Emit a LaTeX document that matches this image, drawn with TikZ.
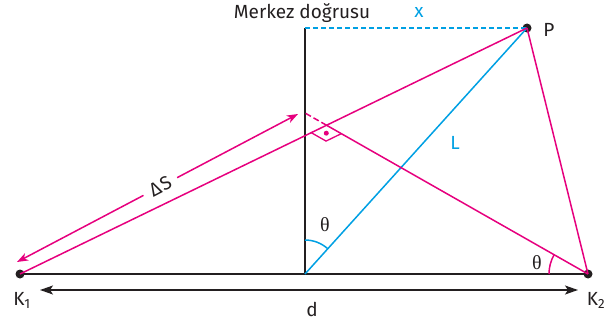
\documentclass[tikz,border=0pt]{standalone}
\usepackage{fontspec}
\setmainfont{Fira Sans}
\newfontfamily\thetafont{Liberation Serif}
\usetikzlibrary{arrows.meta,calc,angles}
\definecolor{pinkc}{RGB}{230,0,126}
\definecolor{bluec}{RGB}{0,160,227}
\definecolor{darkc}{RGB}{35,31,32}
\tikzset{
  pinkline/.style={draw=pinkc,line width=1.5pt},
  blueline/.style={draw=bluec,line width=1.5pt},
  blackline/.style={draw=darkc,line width=1.7pt},
  dotnode/.style={circle,fill=darkc,inner sep=0pt,minimum size=9pt},
  lbl/.style={font=\fontsize{19}{21}\selectfont,text=darkc,inner sep=0pt},
  thlbl/.style={font=\thetafont\fontsize{20}{22}\selectfont,text=darkc,inner sep=0pt},
  pinkarrow/.style={pinkline,-{Stealth[length=11pt,width=8pt,inset=3pt]}},
}
\begin{document}
\begin{tikzpicture}[x=1pt,y=1pt]
\useasboundingbox (0,0) rectangle (611,322);
% points
\node[dotnode] (K1) at (20,48) {};
\node[dotnode] (K2) at (588,48) {};
\node[dotnode] (P) at (527,294) {};
\coordinate (O) at (305,48);
\coordinate (T) at (305,294);
\coordinate (M) at (305,209);
\coordinate (I) at (intersection of K1.center--P.center and K2.center--M);
% center line
\draw[blackline] (O) -- (T);
\draw[blackline] (K1.center) -- (K2.center);
% dashed blue x
\draw[blueline,dashed,dash pattern=on 5pt off 3pt] (T) -- (P.center);
% blue L
\draw[blueline] (O) -- (P.center);
\node[lbl,text=bluec] (lL) at (455,179) {L};
% pink lines
\draw[pinkline] (K1.center) -- (P.center);
\draw[pinkline] (P.center) -- (K2.center);
\draw[pinkline] (K2.center) -- (I);
\draw[pinkline,dashed,dash pattern=on 6pt off 3pt] (I) -- (M);
% right angle mark
\coordinate (RA) at ($(I)!17pt!(K1.center)$);
\coordinate (RB) at ($(I)!17pt!(K2.center)$);
\coordinate (RC) at ($(RA)+(RB)-(I)$);
\draw[pinkline,line width=1.3pt] (RA) -- (RC) -- (RB);
\fill[pinkc] ($(I)!0.5!(RC)$) circle (2.5pt);
% Delta S arrow
\coordinate (S1) at (17,60);
\coordinate (S2) at (298,208);
\coordinate (G1) at ($(S1)!0.45!(S2)$);
\coordinate (G2) at ($(S1)!0.57!(S2)$);
\draw[pinkarrow] (G1) -- (S1);
\draw[pinkarrow] (G2) -- (S2);
\path (S1) -- (S2) node[pos=0.51,sloped,lbl] (lS) {Δ\kern1pt S};
% angles
\pic[draw=bluec,line width=1.5pt,angle radius=34pt] {angle=P--O--T};
\pic[draw=pinkc,line width=1.5pt,angle radius=39pt] {angle=I--K2--K1};
\node[thlbl] (th1) at (325,97) {θ};
\node[thlbl] (th2) at (537,59) {θ};
% d arrow
\coordinate (D1) at (40,32);
\coordinate (D2) at (578,32);
\draw[blackline,line width=1.5pt,{Stealth[length=13pt,width=9pt,inset=3pt]}-{Stealth[length=13pt,width=9pt,inset=3pt]}] (D1) -- (D2);
% labels
\node[lbl] (lK1) at (22,22) {K\textsubscript{1}};
\node[lbl] (lK2) at (596,22) {K\textsubscript{2}};
\node[lbl] (ld) at (312,13) {d};
\node[lbl] (lM) at (302,309) {Merkez doğrusu};
\node[lbl,text=bluec] (lx) at (419,310) {x};
\node[lbl] (lP) at (549,292) {P};
\end{tikzpicture}
\end{document}
